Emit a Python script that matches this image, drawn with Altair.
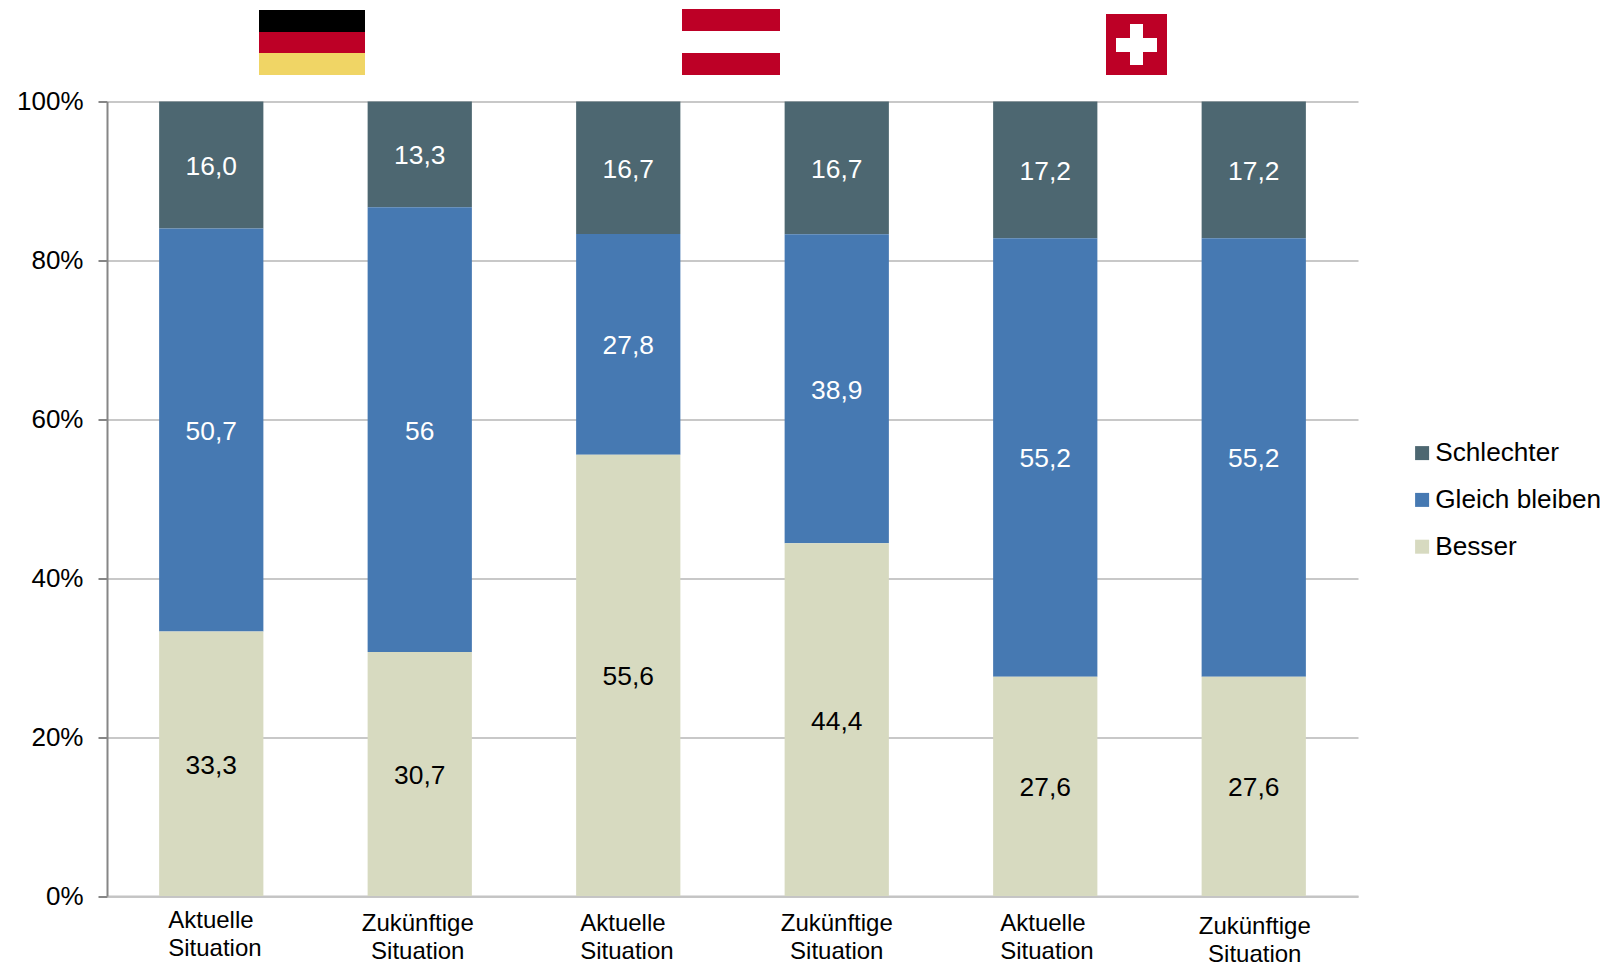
import altair as alt
import pandas as pd

FONT = "Liberation Sans"

groups = ["DE Aktuelle", "DE Zukünftige", "AT Aktuelle", "AT Zukünftige", "CH Aktuelle", "CH Zukünftige"]
axis_labels = ["Aktuelle\nSituation", "Zukünftige\nSituation"] * 3
series = ["Schlechter", "Gleich bleiben", "Besser"]
colors = ["#4d6771", "#4679b2", "#d7dac0"]

schlechter = [16.0, 13.3, 16.7, 16.7, 17.2, 17.2]
gleich = [50.7, 56.0, 27.8, 38.9, 55.2, 55.2]
besser = [33.3, 30.7, 55.6, 44.4, 27.6, 27.6]

schlechter_text = ["16,0", "13,3", "16,7", "16,7", "17,2", "17,2"]
gleich_text = ["50,7", "56", "27,8", "38,9", "55,2", "55,2"]
besser_text = ["33,3", "30,7", "55,6", "44,4", "27,6", "27,6"]

rows = []
for s_i, (name, vals, txts) in enumerate(zip(
        series, [schlechter, gleich, besser], [schlechter_text, gleich_text, besser_text])):
    for g, v, t in zip(groups, vals, txts):
        rows.append({"group": g, "series": name, "value": v, "label": t, "stack_order": 2 - s_i})
df = pd.DataFrame(rows)

x_enc = alt.X("group:N", sort=groups, title=None,
              scale=alt.Scale(paddingInner=0.5, paddingOuter=0.25),
              axis=alt.Axis(labels=False, ticks=False, domainColor="#c4c4c4", domainWidth=2, grid=False))

bars = alt.Chart(df).mark_bar(stroke=None).encode(
    x=x_enc,
    y=alt.Y("value:Q", stack="normalize", title=None,
            scale=alt.Scale(domain=[0, 1], nice=False),
            axis=alt.Axis(format=".0%", values=[0, .2, .4, .6, .8, 1], grid=True, gridColor="#c8c8c8",
                          gridWidth=2, domainColor="#868686", domainWidth=2, tickColor="#868686",
                          tickWidth=2, tickSize=9, labelPadding=15, labelFontSize=26, labelFont=FONT,
                          labelColor="#000000", labelFlush=False)),
    color=alt.Color("series:N", sort=series, scale=alt.Scale(domain=series, range=colors),
                    legend=alt.Legend(title=None, orient="none", legendX=1302, legendY=338.5,
                                      symbolType="square", symbolSize=196, symbolStrokeWidth=0,
                                      labelFont=FONT, labelFontSize=26.2, labelColor="#000000",
                                      labelOffset=0, rowPadding=19.8, labelLimit=300)),
    order=alt.Order("stack_order:Q"),
)

values = alt.Chart(df).mark_text(font=FONT, fontSize=26.4, dy=2).encode(
    x=alt.X("group:N", sort=groups),
    y=alt.Y("value:Q", stack="normalize", bandPosition=0.5),
    order=alt.Order("stack_order:Q"),
    text="label:N",
    color=alt.condition(alt.datum.series == "Besser", alt.value("#000000"), alt.value("#ffffff")),
)

# Category labels: the reference places each one slightly differently
label_df = pd.DataFrame({"group": groups, "text": axis_labels})
label_y = [807, 810, 810, 810, 810, 813]
label_dx = [-43, -2, -48, 0, -45, 1]
label_align = ["left", "center", "left", "center", "left", "center"]
cat_layers = []
for g, yy, dx, al in zip(groups, label_y, label_dx, label_align):
    cat_layers.append(
        alt.Chart(label_df).transform_filter(alt.datum.group == g)
        .mark_text(font=FONT, fontSize=24, lineBreak="\n", lineHeight=28.5, baseline="top",
                   align=al, dx=dx, color="#000000")
        .encode(x=alt.X("group:N", sort=groups), y=alt.value(yy), text="text:N")
    )


def rect(x1, x2, y1, y2, color):
    """Decorative flag part, in pixels relative to the plot's top left corner."""
    return alt.Chart(label_df.head(1)).mark_rect(color=color, stroke=None).encode(
        x=alt.value(x1 - 107), x2=alt.value(x2 - 107), y=alt.value(y1 - 101.5), y2=alt.value(y2 - 101.5))


RED = "#bd0026"
flags = [
    rect(259, 365, 10, 32, "#000000"), rect(259, 365, 32, 53, RED), rect(259, 365, 53, 75, "#f0d565"),
    rect(682, 780, 9, 31, RED), rect(682, 780, 31, 53, "#ffffff"), rect(682, 780, 53, 75, RED),
    rect(1106, 1167, 14, 75, RED), rect(1130, 1143, 24, 65, "#ffffff"), rect(1116, 1157, 38, 52, "#ffffff"),
]

chart = alt.layer(bars, values, *cat_layers, *flags).resolve_scale(x="shared").properties(
    width=1251, height=794.5,
    padding={"left": 99, "top": 93.5, "right": 244, "bottom": 70},
    autosize=alt.AutoSizeParams(type="none"),
).configure_view(stroke=None)

chart.save("out.html", embed_options={"renderer": "svg", "actions": False})
